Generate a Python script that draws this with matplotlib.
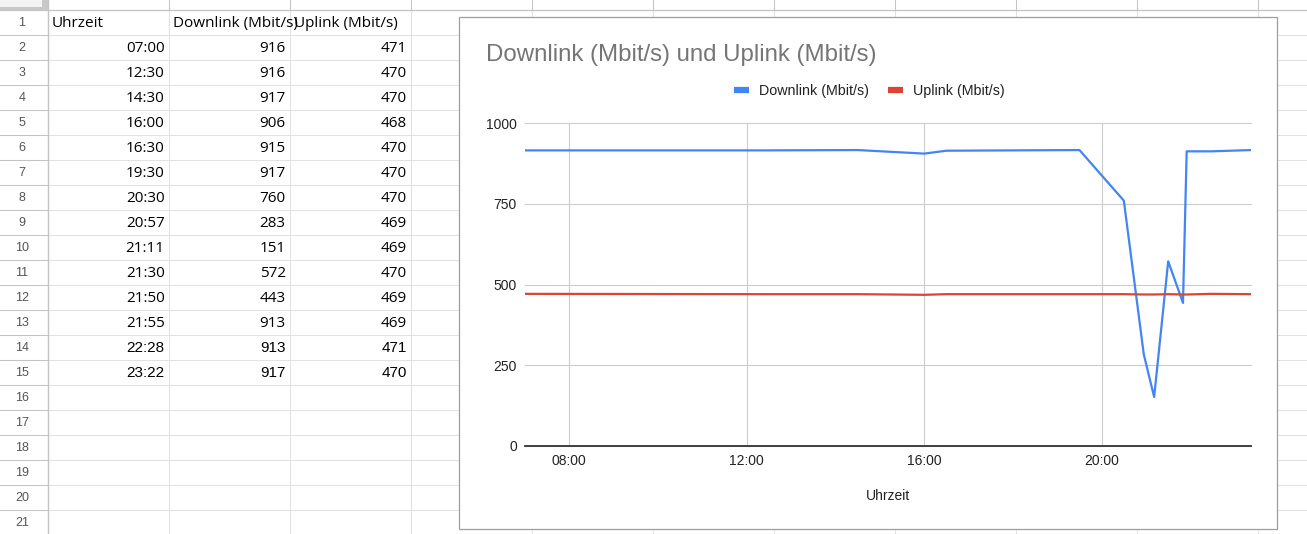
import matplotlib
matplotlib.use("Agg")
import matplotlib.pyplot as plt
from matplotlib.patches import Rectangle
from matplotlib.lines import Line2D

# Tabellendaten (Messungen)
uhrzeit = ["07:00", "12:30", "14:30", "16:00", "16:30", "19:30", "20:30",
           "20:57", "21:11", "21:30", "21:50", "21:55", "22:28", "23:22"]
downlink = [916, 916, 917, 906, 915, 917, 760, 283, 151, 572, 443, 913, 913, 917]
uplink = [471, 470, 470, 468, 470, 470, 470, 469, 469, 470, 469, 469, 471, 470]
kopf = ["Uhrzeit", "Downlink (Mbit/s)", "Uplink (Mbit/s)"]
x_ticks = ["08:00", "12:00", "16:00", "20:00"]
y_ticks = [0, 250, 500, 750, 1000]
titel = "Downlink (Mbit/s) und Uplink (Mbit/s)"

W, H = 1307, 534
FONT = "Liberation Sans"
FONT_ZELLE = "Open Sans"   # breitere Schrift wie in den oberen Zeilen
BLAU = "#4285f4"
ROT = "#db4437"


def stunden(s):
    h, m = s.split(":")
    return int(h) + int(m) / 60


def fx(x):
    return x / W


def fy(y):
    return 1 - y / H


fig = plt.figure(figsize=(W / 100, H / 100), dpi=100)
plt.rcParams["font.family"] = [FONT, "DejaVu Sans"]

# Tabellenblatt im Hintergrund (Pixelkoordinaten)
bg = fig.add_axes([0, 0, 1, 1], zorder=0)
bg.set_xlim(0, W)
bg.set_ylim(H, 0)
bg.axis("off")

x0, cw = 47.7, 121
y0, rh = 10.3, 25
for k in range(11):
    x = x0 + k * cw
    bg.plot([x, x], [y0, H], color="#e2e2e2", lw=0.75)
    bg.plot([x, x], [0, y0], color="#c4c4c4", lw=0.75)
for k in range(1, 23):
    y = y0 + k * rh
    bg.plot([x0, W], [y, y], color="#e2e2e2", lw=0.75)
    bg.plot([0, x0], [y, y], color="#c4c4c4", lw=0.75)
bg.plot([0, W], [y0, y0], color="#c4c4c4", lw=0.9)
bg.plot([x0, x0], [0, H], color="#c4c4c4", lw=1.0)
# Ecke oben links
bg.add_patch(Rectangle((0, 0), x0, y0, fc="#c8c8c8", ec="none"))
bg.add_patch(Rectangle((0, 0), 42, 6.7, fc="#f3f3f3", ec="none"))

# Zeilennummern
for i in range(1, 22):
    bg.text(22, y0 + (i - 0.5) * rh + 0.5, str(i), ha="center", va="center",
            fontsize=9, color="#555555")

# Kopfzeile
for j, name in enumerate(kopf):
    t = bg.text(x0 + j * cw + 4, y0 + 0.5 * rh + 0.5, name, ha="left",
                va="center", fontsize=11, color="#000000", family=FONT_ZELLE)
    t.set_clip_path(Rectangle((x0 + j * cw, y0), cw, rh, transform=bg.transData))

# Werte
for i in range(len(uhrzeit)):
    yc = y0 + (i + 1.5) * rh + 0.5
    fam = FONT_ZELLE if i < 12 else FONT
    for j, val in enumerate([uhrzeit[i], downlink[i], uplink[i]]):
        bg.text(x0 + (j + 1) * cw - 4, yc, str(val), ha="right", va="center",
                fontsize=11, color="#000000", family=fam)

# Diagrammrahmen
bg.add_patch(Rectangle((459, 17), 1277 - 459, 529 - 17, fc="white",
                       ec="#9e9e9e", lw=0.9, zorder=5))

# Diagramm
ax_l, ax_r, ax_t, ax_b = 525, 1251, 123.3, 445.7
ax = fig.add_axes([fx(ax_l), fy(ax_b), fx(ax_r - ax_l), (ax_b - ax_t) / H], zorder=2)
ax.set_facecolor("none")

xs = [stunden(s) for s in uhrzeit]
ax.plot(xs, downlink, color=BLAU, lw=1.6, zorder=3)
ax.plot(xs, uplink, color=ROT, lw=1.6, zorder=3)
ax.axhline(0, color="#333333", lw=1.3, zorder=4, clip_on=False)

ax.set_xlim(xs[0], xs[-1])
ax.set_ylim(0, 1000)
ax.set_xticks([stunden(s) for s in x_ticks])
ax.set_xticklabels(x_ticks)
ax.set_yticks(y_ticks)
ax.set_yticklabels([str(v) for v in y_ticks])
ax.grid(True, color="#cccccc", lw=0.8, zorder=1)
for g in ax.get_ygridlines() + ax.get_xgridlines():
    g.set_clip_on(False)
for s in ax.spines.values():
    s.set_visible(False)
ax.tick_params(length=0, labelsize=10, colors="#222222")
ax.tick_params(axis="y", pad=5.8)
ax.tick_params(axis="x", pad=5.8)

fig.text(fx(486), fy(55), titel, ha="left", va="center", fontsize=17.3,
         color="#757575")
fig.text(fx(888), fy(496.5), "Uhrzeit", ha="center", va="center",
         fontsize=10, color="#222222")

griffe = [Line2D([], [], color=BLAU, lw=4.5, solid_capstyle="butt"),
          Line2D([], [], color=ROT, lw=4.5, solid_capstyle="butt")]
fig.legend(griffe, kopf[1:], loc="center", bbox_to_anchor=(fx(869), fy(91)),
           ncol=2, frameon=False, fontsize=10.3, handlelength=1.05,
           handletextpad=0.7, columnspacing=1.33, borderpad=0,
           labelcolor="#222222")

fig.savefig("out.png", dpi=100)
